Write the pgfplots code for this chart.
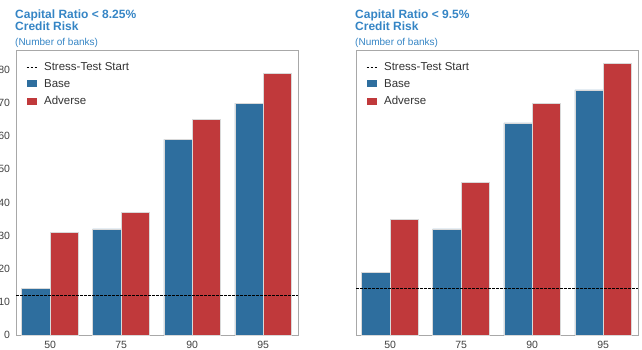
\documentclass[border=0pt]{standalone}
\usepackage{fontspec}
\setmainfont{Liberation Sans}
\usepackage{pgfplots}
\usepackage{pgfplotstable}
\pgfplotsset{compat=1.18}

\definecolor{barblue}{HTML}{2E6E9E}
\definecolor{barred}{HTML}{C0393B}
\definecolor{ttlblue}{HTML}{3585C5}
\definecolor{framegray}{HTML}{A8A8A8}

% number of banks, left: capital ratio < 8.25%, right: < 9.5%
\pgfplotstableread{
x base adverse
0 14 31
1 32 37
2 59 65
3 70 79
}\lefttab
\pgfplotstableread{
x base adverse
0 19 35
1 32 46
2 64 70
3 74 82
}\righttab

\pgfplotsset{
  panel/.style={
    width=282pt, height=285pt, scale only axis,
    xmin=-0.48, xmax=3.49, ymin=0, ymax=86,
    xtick={0,1,2,3}, xticklabels={50,75,90,95},
    ytick={0,10,...,80},
    major tick length=0pt,
    axis line style={framegray, line width=0.8pt},
    tick label style={font=\fontsize{10.5}{12}\selectfont, text=black!75},
    xticklabel style={yshift=-3pt},
    yticklabel style={xshift=-2.5pt},
    /pgf/number format/assume math mode=true,
    legend style={draw=none, fill=none, at={(rel axis cs:0,1)}, anchor=north west,
      xshift=7pt, yshift=-8pt, font=\fontsize{11.5}{13}\selectfont,
      row sep=3.5pt, text=black!80,
      nodes={inner xsep=6pt}},
    legend cell align=left,
  },
  bars/.style={ybar, bar width=0.4, draw=white!70!gray, line width=0.5pt,
    area legend,
    legend image code/.code={\fill[##1, draw=none] (0pt,-3.5pt) rectangle (10pt,3.5pt);}},
  startline/.style={black, line width=0.9pt, dash pattern=on 2.5pt off 1.5pt},
  startlegend/.style={startline,
    legend image code/.code={\draw[##1] (0pt,0pt) -- (11pt,0pt);}},
}

\begin{document}
\begin{tikzpicture}
\useasboundingbox (0pt,0pt) rectangle (642pt,349pt);

\begin{axis}[panel, at={(16pt,14pt)}, anchor=south west]
  \addlegendimage{startlegend}
  \addlegendentry{Stress-Test Start}
  \addplot[bars, fill=barblue, bar shift=-0.2] table[x=x, y=base] {\lefttab};
  \addlegendentry{Base}
  \addplot[bars, fill=barred, bar shift=0.2] table[x=x, y=adverse] {\lefttab};
  \addlegendentry{Adverse}
  \addplot[startline, forget plot] coordinates {(-0.48,12) (3.49,12)};
\end{axis}

\begin{axis}[panel, at={(356pt,14pt)}, anchor=south west, yticklabels={}]
  \addlegendimage{startlegend}
  \addlegendentry{Stress-Test Start}
  \addplot[bars, fill=barblue, bar shift=-0.2] table[x=x, y=base] {\righttab};
  \addlegendentry{Base}
  \addplot[bars, fill=barred, bar shift=0.2] table[x=x, y=adverse] {\righttab};
  \addlegendentry{Adverse}
  \addplot[startline, forget plot] coordinates {(-0.48,14) (3.49,14)};
\end{axis}

\begin{scope}[text=ttlblue]
  \node[anchor=base west, inner sep=0pt, font=\bfseries\fontsize{12}{14}\selectfont] at (15pt,330.5pt) {Capital Ratio < 8.25\%};
  \node[anchor=base west, inner sep=0pt, font=\bfseries\fontsize{12}{14}\selectfont] at (15pt,318.5pt) {Credit Risk};
  \node[anchor=base west, inner sep=0pt, font=\fontsize{10}{12}\selectfont] at (15pt,303pt) {(Number of banks)};
  \node[anchor=base west, inner sep=0pt, font=\bfseries\fontsize{12}{14}\selectfont] at (355pt,330.5pt) {Capital Ratio < 9.5\%};
  \node[anchor=base west, inner sep=0pt, font=\bfseries\fontsize{12}{14}\selectfont] at (355pt,318.5pt) {Credit Risk};
  \node[anchor=base west, inner sep=0pt, font=\fontsize{10}{12}\selectfont] at (355pt,303pt) {(Number of banks)};
\end{scope}
\end{tikzpicture}
\end{document}
